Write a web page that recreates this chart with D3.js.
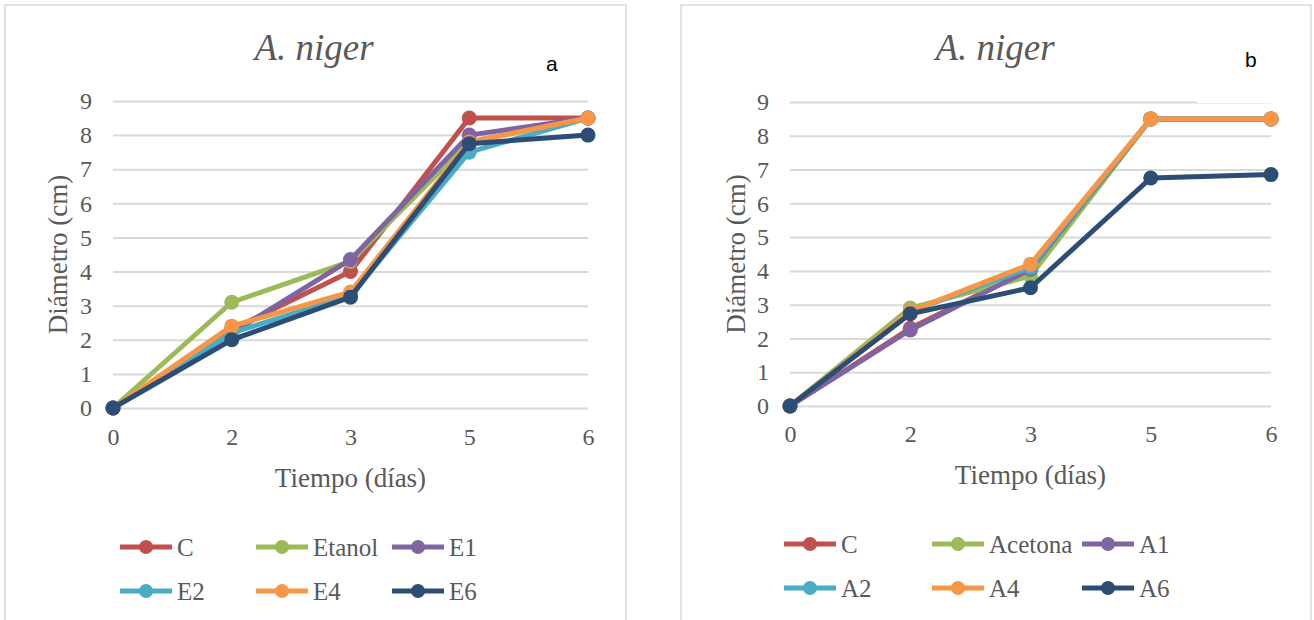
<!DOCTYPE html>
<html>
<head>
<meta charset="utf-8">
<script src="https://cdn.jsdelivr.net/npm/d3@7"></script>
<style>
  body { margin: 0; background: #fff; }
  svg text { font-family: "Liberation Serif", "DejaVu Serif", serif; fill: #595959; }
</style>
</head>
<body>
<script>
// days on the x axis (categorical, evenly spaced)
const days = ["0", "2", "3", "5", "6"];
const yTicks = [0, 1, 2, 3, 4, 5, 6, 7, 8, 9];

// panel a : ethanol extracts
const namesA = ["C", "Etanol", "E1", "E2", "E4", "E6"];
const valuesA = [
  [0, 2.3, 4.0, 8.5, 8.5],
  [0, 3.1, 4.3, 7.8, 8.5],
  [0, 2.2, 4.35, 8.0, 8.5],
  [0, 2.2, 3.3, 7.5, 8.5],
  [0, 2.4, 3.4, 7.8, 8.5],
  [0, 2.0, 3.25, 7.75, 8.0]
];

// panel b : acetone extracts
const namesB = ["C", "Acetona", "A1", "A2", "A4", "A6"];
const valuesB = [
  [0, 2.3, 4.05, 8.5, 8.5],
  [0, 2.9, 3.85, 8.5, 8.5],
  [0, 2.25, 4.05, 8.5, 8.5],
  [0, 2.8, 4.1, 8.5, 8.5],
  [0, 2.8, 4.2, 8.5, 8.5],
  [0, 2.73, 3.5, 6.75, 6.85]
];

const colours = ["#C0504D", "#9BBB59", "#8064A2", "#4BACC6", "#F79646", "#2C4D75"];

const svg = d3.select("body").append("svg")
  .attr("width", 1314)
  .attr("height", 620);

function styleTicks(a) {
  a.select(".domain").remove();
  a.selectAll("text")
    .attr("font-size", 24)
    .attr("fill", "#595959")
    .style("font-family", "Liberation Serif");
}

function drawPanel(p) {
  var g = svg.append("g");

  // chart frame
  g.append("rect")
    .attr("x", p.frame[0]).attr("y", p.frame[1])
    .attr("width", p.frame[2]).attr("height", p.frame[3])
    .attr("fill", "#fff")
    .attr("stroke", "#D9D9D9")
    .attr("stroke-width", 1.5);

  var x = d3.scalePoint().domain(days).range([p.x0, p.x1]).padding(0);
  var y = d3.scaleLinear().domain([0, 9]).range([p.y0, p.y1]);

  // gridlines
  g.append("g")
    .attr("transform", "translate(" + p.x0 + ",0)")
    .call(d3.axisLeft(y).tickValues(yTicks).tickSize(-(p.x1 - p.x0)).tickFormat(""))
    .call(function(a) {
      a.select(".domain").remove();
      a.selectAll("line").attr("stroke", "#D9D9D9").attr("stroke-width", 2);
    });

  // y tick labels
  g.append("g")
    .attr("transform", "translate(" + p.yLabelX + ",0)")
    .call(d3.axisLeft(y).tickValues(yTicks).tickSize(0).tickPadding(0).tickFormat(d3.format("d")))
    .call(styleTicks);

  // x tick labels
  g.append("g")
    .attr("transform", "translate(0," + p.xLabelY + ")")
    .call(d3.axisBottom(x).tickSize(0).tickPadding(0))
    .call(styleTicks);

  // white text box behind the panel letter (hides end of the top gridline)
  if (p.letterBox) {
    g.append("rect")
      .attr("x", p.letterBox[0]).attr("y", p.letterBox[1])
      .attr("width", p.letterBox[2]).attr("height", p.letterBox[3])
      .attr("fill", "#fff");
  }

  // series
  var line = d3.line()
    .x(function(d, i) { return x(days[i]); })
    .y(function(d) { return y(d); });

  p.values.forEach(function(vals, k) {
    var s = g.append("g");
    s.append("path")
      .datum(vals)
      .attr("d", line)
      .attr("fill", "none")
      .attr("stroke", colours[k])
      .attr("stroke-width", 5)
      .attr("stroke-linejoin", "round");
    s.selectAll("circle")
      .data(vals)
      .enter()
      .append("circle")
        .attr("cx", function(d, i) { return x(days[i]); })
        .attr("cy", function(d) { return y(d); })
        .attr("r", 7.5)
        .attr("fill", colours[k]);
  });

  // titles
  g.append("text")
    .attr("x", p.titleX).attr("y", 60)
    .attr("text-anchor", "middle")
    .attr("font-size", 37)
    .attr("font-style", "italic")
    .text("A. niger");

  g.append("text")
    .attr("x", p.letterX).attr("y", p.letterY)
    .attr("font-size", 21)
    .style("font-family", "Liberation Sans, Arial, sans-serif")
    .style("fill", "#000")
    .text(p.letter);

  g.append("text")
    .attr("x", (p.x0 + p.x1) / 2).attr("y", p.xTitleY)
    .attr("text-anchor", "middle")
    .attr("font-size", 27)
    .text("Tiempo (días)");

  g.append("text")
    .attr("transform", "translate(" + p.yTitleX + "," + ((p.y0 + p.y1) / 2) + ") rotate(-90)")
    .attr("text-anchor", "middle")
    .attr("dy", "0.35em")
    .attr("font-size", 27)
    .text("Diámetro (cm)");

  // legend, 3 columns x 2 rows
  var leg = g.selectAll("g.legend")
    .data(p.names)
    .enter()
    .append("g")
      .attr("class", "legend")
      .attr("transform", function(d, i) {
        return "translate(" + p.legCols[i % 3] + "," + p.legRows[Math.floor(i / 3)] + ")";
      });
  leg.append("line")
    .attr("x1", 0).attr("x2", 52)
    .attr("stroke", function(d, i) { return colours[i]; })
    .attr("stroke-width", 5);
  leg.append("circle")
    .attr("cx", 26).attr("r", 7)
    .attr("fill", function(d, i) { return colours[i]; });
  leg.append("text")
    .attr("x", 57).attr("dy", "0.35em")
    .attr("font-size", 25)
    .text(function(d) { return d; });
}

drawPanel({
  names: namesA, values: valuesA,
  frame: [5, 5, 621, 640],
  x0: 113, x1: 588, y0: 408, y1: 101,
  yLabelX: 92, xLabelY: 428,
  titleX: 314, letter: "a", letterX: 546, letterY: 71,
  xTitleY: 487, yTitleX: 58,
  legCols: [120, 256, 392], legRows: [547, 591]
});

drawPanel({
  names: namesB, values: valuesB,
  frame: [681, 5, 630, 640],
  x0: 790, x1: 1271, y0: 406, y1: 102,
  yLabelX: 769, xLabelY: 425,
  titleX: 995, letter: "b", letterX: 1245, letterY: 67,
  xTitleY: 484, yTitleX: 736,
  letterBox: [1197, 40, 100, 63],
  legCols: [784, 932, 1082], legRows: [544, 588]
});
</script>
</body>
</html>
